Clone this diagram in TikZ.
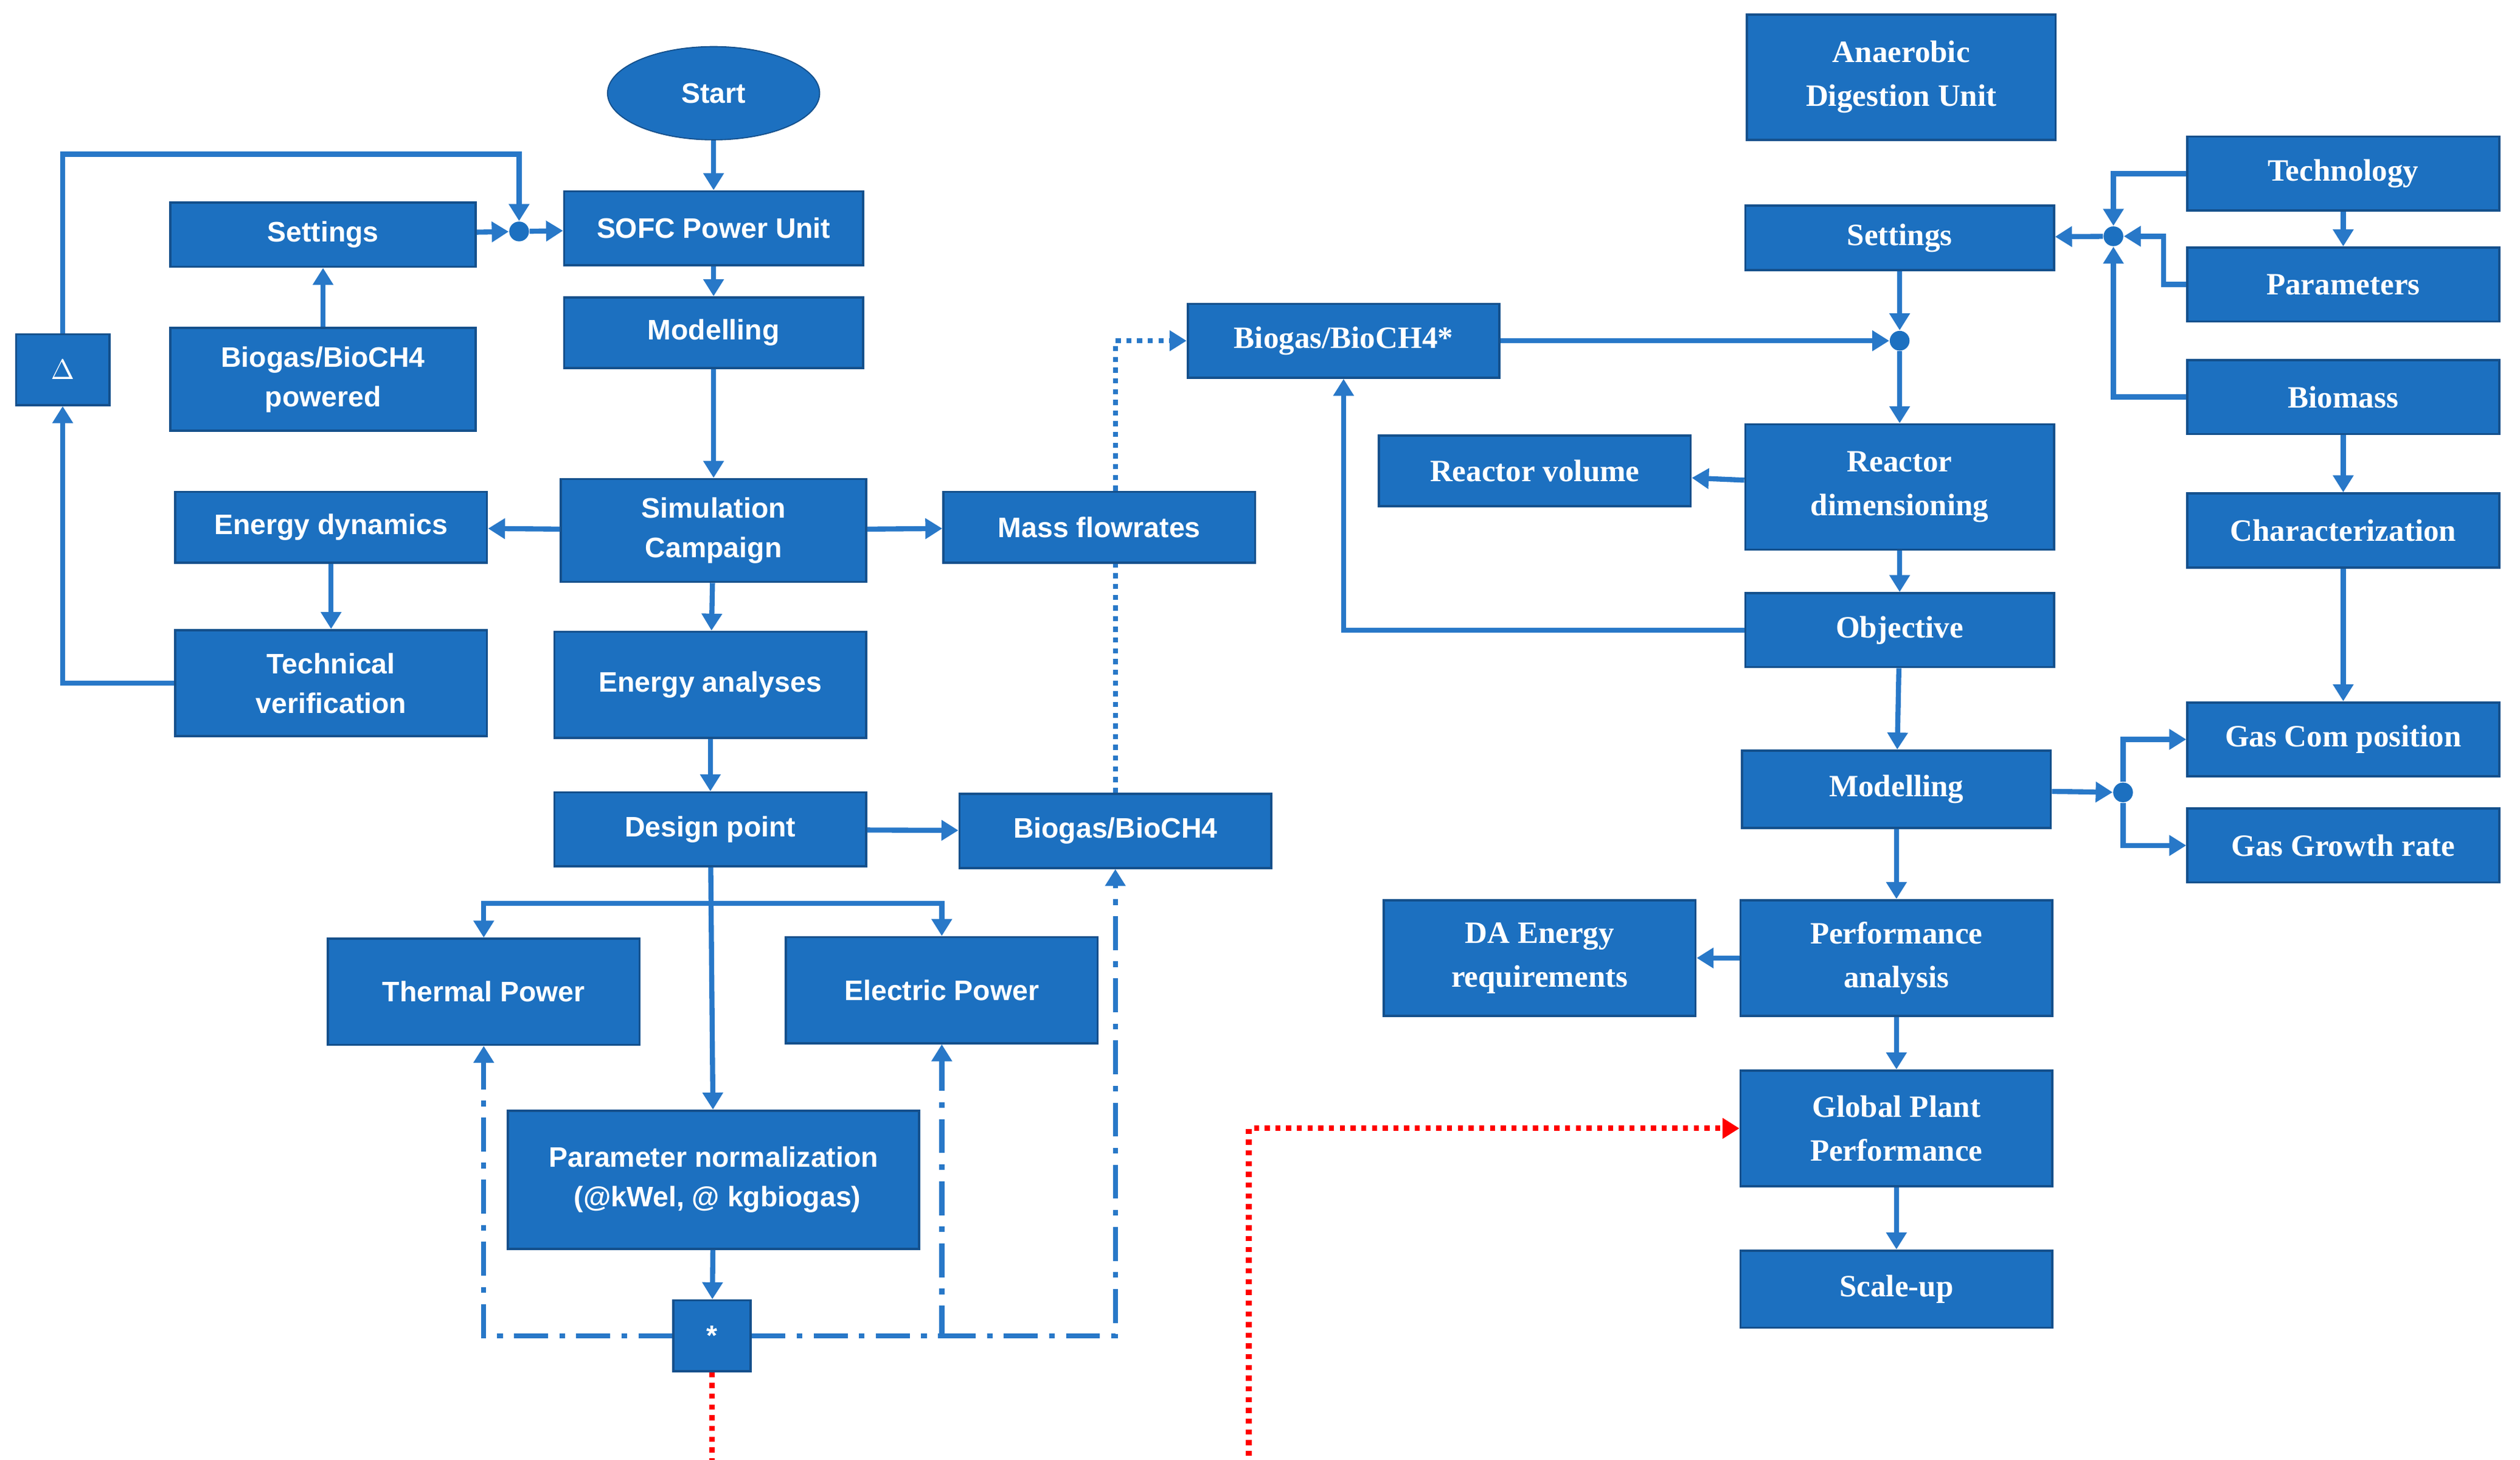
\documentclass[tikz,border=0pt]{standalone}
\usepackage{fontspec}
\setmainfont{Liberation Sans}
\newfontfamily\serifb{Liberation Serif}
\usetikzlibrary{arrows.meta,shapes.geometric}
\definecolor{bfill}{RGB}{28,112,192}
\definecolor{bdraw}{RGB}{20,80,140}
\definecolor{ln}{RGB}{40,120,200}
\begin{document}
\begin{tikzpicture}[x=0.02cm,y=-0.02cm,
 box/.style={rectangle,fill=bfill,draw=bdraw,line width=0.8pt,text=white,font=\fontsize{10}{14}\selectfont\bfseries,align=center,inner sep=1pt,drop/.style={}},
 bx/.style 2 args={box,minimum width=#1cm,minimum height=#2cm},
 rb/.style={font=\serifb\fontsize{11}{15.5}\selectfont\bfseries},
 ar/.style={draw=ln,line width=1.8pt,-{Triangle[length=6pt,width=7pt]}},
 l/.style={draw=ln,line width=1.8pt},
 dot/.style={circle,fill=bfill,inner sep=0pt,minimum size=7pt}]
\useasboundingbox (0,0) rectangle (1568,908);
% left nodes
\node[ellipse,fill=bfill,draw=bdraw,text=white,font=\fontsize{10}{12}\selectfont\bfseries,minimum width=2.64cm,minimum height=1.16cm] (start) at (444,58) {Start};
\node[bx={3.72}{0.92}] (sofc) at (444,142) {SOFC Power Unit};
\node[bx={3.8}{0.8}] (setL) at (201,146) {Settings};
\node[bx={3.72}{0.88}] (mod) at (444,207) {Modelling};
\node[bx={3.8}{1.28}] (biop) at (201,236) {Biogas/BioCH4\\powered};
\node[bx={1.16}{0.88}] (delta) at (39,230) {$\Delta$};
\node[bx={3.8}{1.28}] (sim) at (444,330) {Simulation\\Campaign};
\node[bx={3.88}{0.88}] (edyn) at (206,328) {Energy dynamics};
\node[bx={3.88}{0.88}] (mass) at (684,328) {Mass flowrates};
\node[bx={3.88}{1.32}] (tech) at (206,425) {Technical\\verification};
\node[bx={3.88}{1.32}] (ean) at (442,426) {Energy analyses};
\node[bx={3.88}{0.92}] (design) at (442,516) {Design point};
\node[bx={3.88}{0.92}] (bio2) at (694,517) {Biogas/BioCH4};
\node[bx={3.88}{1.32}] (thermal) at (301,617) {Thermal Power};
\node[bx={3.88}{1.32}] (elec) at (586,616) {Electric Power};
\node[bx={5.12}{1.72}] (param) at (444,734) {Parameter normalization\\ \ (@kWel, @ kgbiogas)};
\node[bx={0.96}{0.88}] (star) at (443,831) {*};
% right nodes
\node[bx={3.84}{1.56},rb] (ad) at (1183,48) {Anaerobic\\Digestion Unit};
\node[bx={3.84}{0.8},rb] (setR) at (1182,148) {Settings};
\node[bx={3.88}{0.92},rb] (bstar) at (836,212) {Biogas/BioCH4*};
\node[bx={3.88}{0.88},rb] (rvol) at (955,293) {Reactor volume};
\node[bx={3.84}{1.56},rb] (rdim) at (1182,303) {Reactor\\dimensioning};
\node[bx={3.84}{0.92},rb] (obj) at (1182,392) {Objective};
\node[bx={3.84}{0.96},rb] (modR) at (1180,491) {Modelling};
\node[bx={3.88}{1.44},rb] (da) at (958,596) {DA Energy\\requirements};
\node[bx={3.88}{1.44},rb] (perf) at (1180,596) {Performance\\analysis};
\node[bx={3.88}{1.44},rb] (glob) at (1180,702) {Global Plant\\Performance};
\node[bx={3.88}{0.96},rb] (scale) at (1180,802) {Scale-up};
\node[bx={3.88}{0.92},rb] (techn) at (1458,108) {Technology};
\node[bx={3.88}{0.92},rb] (pars) at (1458,177) {Parameters};
\node[bx={3.88}{0.92},rb] (biom) at (1458,247) {Biomass};
\node[bx={3.88}{0.92},rb] (char) at (1458,330) {Characterization};
\node[bx={3.88}{0.92},rb] (gc) at (1458,460) {Gas Com position};
\node[bx={3.88}{0.92},rb] (gg) at (1458,526) {Gas Growth rate};
% dots
\node[dot] (d1) at (323,144) {};
\node[dot] (d2) at (1315,147) {};
\node[dot] (d3) at (1182,212) {};
\node[dot] (d4) at (1321,493) {};
\coordinate (c1) at (323,96);
% left connectors
\draw[ar] (start) -- (sofc);
\draw[ar] (setL) -- (d1);
\draw[ar] (d1) -- (sofc);
\draw[ar] (delta.north) |- (c1) -- (d1);
\draw[ar] (sofc) -- (mod);
\draw[ar] (mod) -- (sim);
\draw[ar] (biop) -- (setL);
\draw[ar] (sim) -- (edyn);
\draw[ar] (sim) -- (mass);
\draw[ar] (edyn) -- (tech);
\draw[ar] (tech.west) -| (delta.south);
\draw[ar] (sim) -- (ean);
\draw[ar] (ean) -- (design);
\draw[ar] (design) -- (bio2);
\draw[ar] (design) -- (param);
\coordinate (c2) at (442,562);
\draw[ar] (c2) -| (thermal.north);
\draw[ar] (c2) -| (elec.north);
\draw[ar] (param) -- (star);
\draw[ar,dash pattern=on 12pt off 4pt on 2pt off 4pt] (star.west) -| (thermal.south);
\draw[ar,dash pattern=on 12pt off 4pt on 2pt off 4pt] (star.east) -| (elec.south);
\draw[ar,dash pattern=on 12pt off 4pt on 2pt off 4pt] (elec.south |- star.east) -| (bio2.south);
\draw[l,dotted] (bio2.north) -- (bio2.north |- mass.south);
\draw[ar,dotted] (bio2.north |- mass.north) |- (bstar.west);
\draw[ar,red,dotted,line width=2pt] (star.south) -- ++(0,66) -| (777,702) -- (glob.west);
% right connectors
\draw[ar] (bstar.east) -- (d3);
\draw[ar] (setR) -- (d3);
\draw[ar] (d3) -- (rdim);
\draw[ar] (rdim) -- (rvol);
\draw[ar] (rdim) -- (obj);
\draw[ar] (obj.west) -| (bstar.south);
\draw[ar] (obj) -- (modR);
\draw[ar] (modR) -- (d4);
\draw[ar] (d4) |- (gc.west);
\draw[ar] (d4) |- (gg.west);
\draw[ar] (modR) -- (perf);
\draw[ar] (perf) -- (da);
\draw[ar] (perf) -- (glob);
\draw[ar] (glob) -- (scale);
\draw[ar] (techn) -- (pars);
\draw[ar] (biom) -- (char);
\draw[ar] (char) -- (gc);
\draw[ar] (techn.west) -| (d2);
\draw[ar] (pars.west) -- ++(-14,0) |- (d2);
\draw[ar] (biom.west) -| (d2);
\draw[ar] (d2) -- (setR);
\end{tikzpicture}
\end{document}
